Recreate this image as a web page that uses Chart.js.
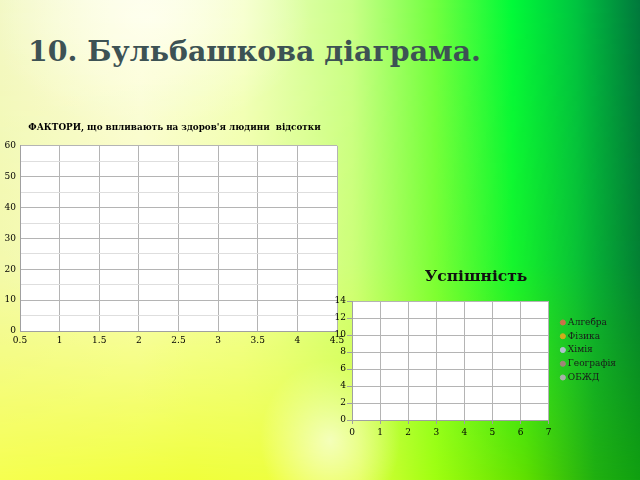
<!DOCTYPE html>
<html>
<head>
<meta charset="utf-8">
<script src="https://cdn.jsdelivr.net/npm/chart.js@4/dist/chart.umd.min.js"></script>
<style>
  html, body { margin: 0; padding: 0; }
  body {
    width: 640px; height: 480px; overflow: hidden; position: relative;
    background:
      radial-gradient(ellipse 70px 80px at 330px 440px, rgba(255,255,215,0.85), rgba(255,255,215,0) 100%),
      linear-gradient(90deg, #f6ff50 0%, #f0ff3c 30%, #eeff40 44%, #e0ff40 56%, #a0ff10 68%, #60e000 82%, #20b010 93%, #10a010 100%);
  }
  .verkh {
    position: absolute; left: 0; top: 0; width: 640px; height: 480px;
    background:
      radial-gradient(ellipse 160px 110px at 150px 20px, rgba(255,255,242,0.9), rgba(255,255,242,0) 100%),
      linear-gradient(90deg, #f2f8c4 0%, #fbfde0 22%, #f2ffc0 38%, #c8ff88 55%, #70ff40 68%, #00fa38 80%, #00c440 90%, #00783c 100%);
    -webkit-mask-image: linear-gradient(to bottom, #000 0%, rgba(0,0,0,0.8) 55%, rgba(0,0,0,0) 100%);
    mask-image: linear-gradient(to bottom, #000 0%, rgba(0,0,0,0.8) 55%, rgba(0,0,0,0) 100%);
  }
  h1 {
    position: absolute; left: 28px; top: 34px; margin: 0;
    font: bold 28.4px "DejaVu Serif"; color: #3d5254;
  }
  .box { position: absolute; }
</style>
</head>
<body>
<div class="verkh"></div>
<h1>10. Бульбашкова діаграма.</h1>
<div class="box" style="left:0px; top:115px;"><canvas id="grafFaktory" width="352" height="240"></canvas></div>
<div class="box" style="left:335px; top:262px;"><canvas id="grafUspishnist" width="284" height="178"></canvas></div>
<script>
  // перша діаграма: порожня, тільки осі
  const tytul1 = "ФАКТОРИ, що впливають на здоров'я людини  відсотки";
  const bulbashky1 = [];
  const xPidpysy1 = [0.5, 1, 1.5, 2, 2.5, 3, 3.5, 4, 4.5];
  const yPidpysy1 = [0, 10, 20, 30, 40, 50, 60];

  // друга діаграма: предмети
  const tytul2 = 'Успішність';
  const predmety = ['Алгебра', 'Фізика', 'Хімія', 'Географія', 'ОБЖД'];
  const bulbashky2 = [[], [], [], [], []];
  const kolory2 = ['#cc7048', '#d2ac1c', '#b0c0cc', '#a08478', '#a8b2a8'];
  const xPidpysy2 = [0, 1, 2, 3, 4, 5, 6, 7];
  const yPidpysy2 = [0, 2, 4, 6, 8, 10, 12, 14];

  const shryft = 'DejaVu Serif';

  // біле тло області графіка
  const biletlo = {
    id: 'biletlo',
    beforeDraw(chart) {
      const a = chart.chartArea;
      chart.ctx.save();
      chart.ctx.fillStyle = '#ffffff';
      chart.ctx.fillRect(a.left, a.top, a.right - a.left, a.bottom - a.top);
      chart.ctx.restore();
    }
  };

  // трохи зсунути легенду праворуч
  const zsuvLegendy = {
    id: 'zsuvLegendy',
    afterLayout(chart) {
      const l = chart.legend;
      if (!l) return;
      l.left += 9; l.right += 9;
      l.top -= 1; l.bottom -= 1;
    }
  };

  // заголовок першої діаграми трохи правіше
  const zsuvTytulu = {
    id: 'zsuvTytulu',
    afterLayout(chart) {
      const t = chart.titleBlock;
      if (!t) return;
      t.left += 6; t.right += 6;
    }
  };

  Chart.defaults.font.family = shryft;
  Chart.defaults.color = '#000000';

  new Chart(document.getElementById('grafFaktory'), {
    type: 'bubble',
    data: {
      datasets: [{ label: 'відсотки', data: bulbashky1, backgroundColor: '#4f81bd' }]
    },
    options: {
      responsive: false,
      animation: false,
      layout: { padding: { left: 0, right: 15, top: 0, bottom: 0 } },
      plugins: {
        legend: { display: false },
        tooltip: { enabled: false },
        title: {
          display: true, text: tytul1, color: '#000',
          font: { family: shryft, size: 8.8, weight: 'bold' },
          padding: { top: 7.5, bottom: 12.8 }
        }
      },
      scales: {
        x: {
          type: 'linear', min: xPidpysy1[0], max: xPidpysy1[xPidpysy1.length - 1],
          afterBuildTicks: s => { s.ticks = xPidpysy1.map(v => ({ value: v })); },
          afterFit: s => { s.height = 24; },
          ticks: { font: { size: 9 }, padding: 4, maxRotation: 0, callback: v => String(v) },
          grid: { color: '#b4b4b4', drawTicks: false },
          border: { color: '#a0a0a0' }
        },
        y: {
          type: 'linear', min: 0, max: 60,
          ticks: {
            stepSize: 5, font: { size: 9 }, padding: 4,
            callback: v => yPidpysy1.includes(v) ? String(v) : ''
          },
          afterFit: s => { s.width = 20; },
          grid: {
            drawTicks: false,
            color: c => yPidpysy1.includes(c.tick.value) ? '#b4b4b4' : '#dedede'
          },
          border: { color: '#a0a0a0' }
        }
      }
    },
    plugins: [biletlo, zsuvTytulu]
  });

  new Chart(document.getElementById('grafUspishnist'), {
    type: 'bubble',
    data: {
      datasets: predmety.map((p, i) => ({
        label: p, data: bulbashky2[i], backgroundColor: kolory2[i], borderColor: kolory2[i]
      }))
    },
    options: {
      responsive: false,
      animation: false,
      layout: { padding: { right: 2 } },
      plugins: {
        tooltip: { enabled: false },
        title: {
          display: true, text: tytul2, color: '#111',
          font: { family: shryft, size: 15.5, weight: 'bold' },
          padding: { top: 6, bottom: 14.4 }
        },
        legend: {
          position: 'right', align: 'center',
          labels: {
            usePointStyle: true, pointStyle: 'circle', boxHeight: 3.6, boxWidth: 1,
            padding: 4.75, color: '#1a1a1a', font: { family: shryft, size: 9 }
          }
        }
      },
      scales: {
        x: {
          type: 'linear', min: 0, max: 7,
          afterBuildTicks: s => { s.ticks = xPidpysy2.map(v => ({ value: v })); },
          afterFit: s => { s.height = 20; },
          ticks: { font: { size: 9 }, padding: 3, maxRotation: 0 },
          grid: { color: '#b4b4b4', tickLength: 4, tickColor: '#a0a0a0' },
          border: { color: '#a0a0a0' }
        },
        y: {
          type: 'linear', min: 0, max: 14,
          afterBuildTicks: s => { s.ticks = yPidpysy2.map(v => ({ value: v })); },
          afterFit: s => { s.width = 17; },
          ticks: { font: { size: 9 }, padding: 1 },
          grid: { color: '#b4b4b4', tickLength: 5, tickColor: '#a0a0a0' },
          border: { color: '#a0a0a0' }
        }
      }
    },
    plugins: [biletlo, zsuvLegendy]
  });
</script>
</body>
</html>
